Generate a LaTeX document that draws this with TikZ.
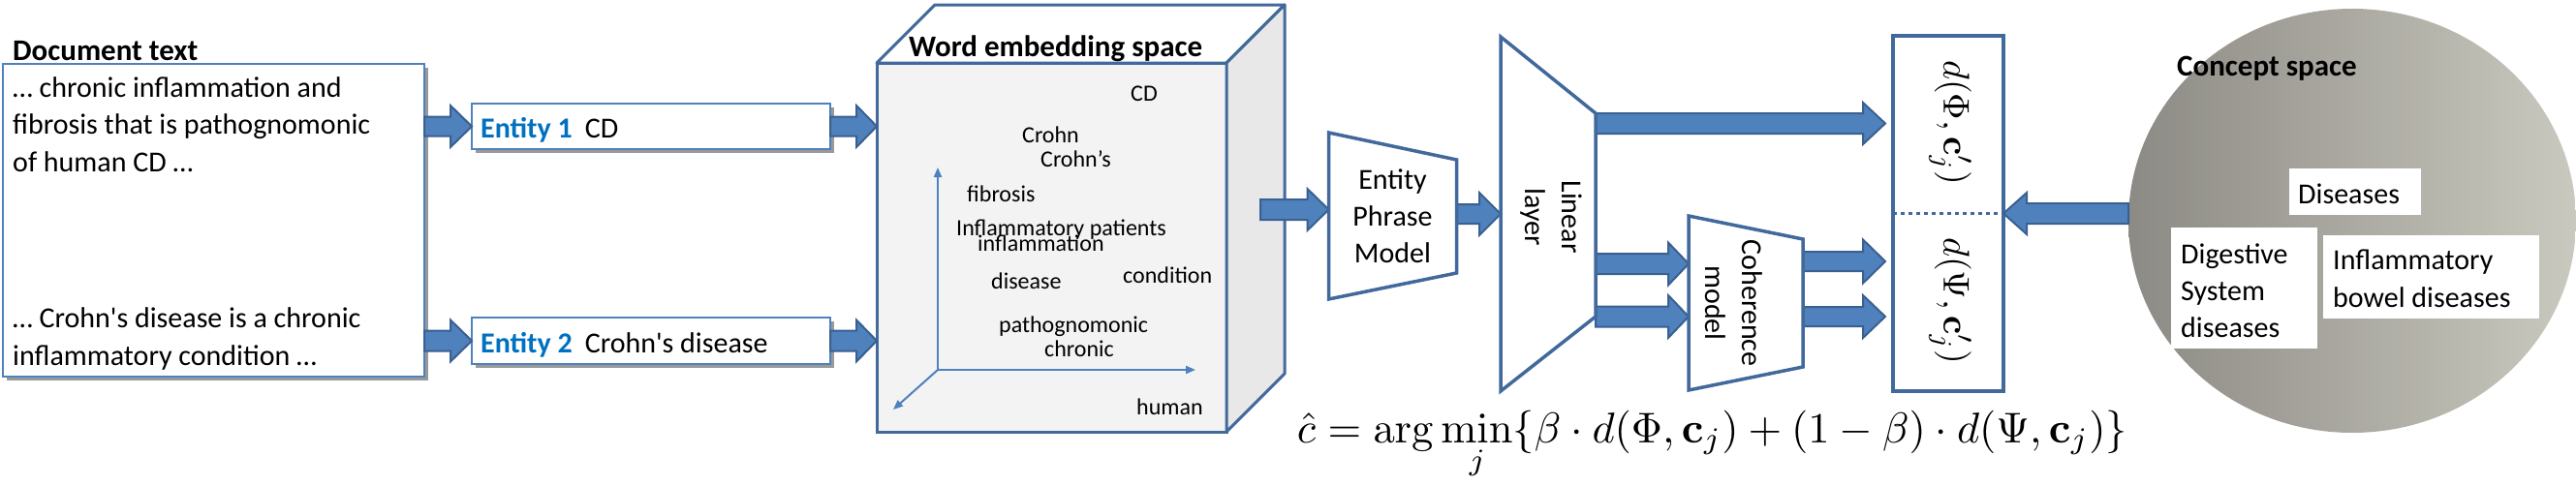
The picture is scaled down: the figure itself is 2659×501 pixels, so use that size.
\documentclass[tikz,border=0pt]{standalone}
\usepackage[no-math]{fontspec}
\setmainfont{Carlito}[Ligatures=TeXOff]
\usepackage{amsmath}
\usetikzlibrary{calc,arrows.meta,shapes.geometric,shadows}
\definecolor{arrowfill}{HTML}{4F81BD}
\definecolor{arrowline}{HTML}{3A6090}
\definecolor{shapeline}{HTML}{41699B}
\definecolor{entblue}{HTML}{0070C0}
\definecolor{boxline}{HTML}{4F81BD}
\definecolor{cubefront}{HTML}{F3F3F3}
\definecolor{cubeside}{HTML}{E8E8E8}
\definecolor{csleft}{HTML}{8C8A84}
\definecolor{csright}{HTML}{CAC9BF}
\newcommand\myfbody{\fontsize{30pt}{38pt}\selectfont}
\newcommand\myfword{\fontsize{24pt}{29pt}\selectfont}
\newcommand\myftitle{\fontsize{31pt}{38pt}\selectfont\bfseries}
\newcommand\barrow[5]{%
  \draw[blockarrow] let \p1=(#1), \p2=(#2) in
   (\x1,{\y2+#3pt}) -- ({\x2-(#5pt)},{\y2+#3pt}) -- ({\x2-(#5pt)},{\y2+#4pt}) -- (\x2,\y2)
   -- ({\x2-(#5pt)},{\y2-#4pt}) -- ({\x2-(#5pt)},{\y2-#3pt}) -- (\x1,{\y2-#3pt}) -- cycle;}
\begin{document}
\begin{tikzpicture}[x=1pt,y=-1pt,
  blockarrow/.style={fill=arrowfill, draw=arrowline, line width=2pt, line join=miter},
  tbox/.style={draw=boxline, line width=1.5pt, fill=white, inner sep=0pt, outer sep=0pt,
     drop shadow={shadow xshift=4pt, shadow yshift=-4pt, fill=black!40, opacity=1}},
  frame/.style={inner sep=0pt, outer sep=0pt},
  trap/.style={draw=shapeline, line width=3.5pt, line join=miter, fill=white},
  cubeline/.style={draw=shapeline, line width=3pt, line join=round},
  txt/.style={inner sep=0pt, font=\myfbody},
  line/.style={inner sep=0pt, anchor=base west, font=\myfbody},
  word/.style={inner sep=0pt, anchor=base west, font=\myfword},
  title/.style={inner sep=0pt, anchor=base west, font=\myftitle},
  axis/.style={draw=arrowfill, line width=2pt, -{Triangle[length=10pt,width=8pt]}},
  wbox/.style={fill=white, draw=none, inner sep=0pt, outer sep=0pt},
  mathnode/.style={inner sep=0pt, scale=3.8}]
\useasboundingbox (0,0) rectangle (2659,501);

% ---- Document text
\node[title] (doctitle) at (13,62) {Document text};
\node[tbox, minimum width=435pt, minimum height=323pt] (doc) at (220.5,227.5) {};
\node[line] (dl1) at (13,100) {… chronic inflammation and};
\node[line] (dl2) at (13,138) {fibrosis that is pathognomonic};
\node[line] (dl3) at (13,177) {of human CD …};
\node[line] (dl4) at (13,338) {… Crohn's disease is a chronic};
\node[line] (dl5) at (13,377) {inflammatory condition …};

% ---- Entities
\node[tbox, minimum width=370pt, minimum height=47pt] (e1) at (672,130.5) {};
\node[line] (e1t) at (496,142) {\textcolor{entblue}{\bfseries Entity 1}\hspace{13pt}CD};
\node[tbox, minimum width=370pt, minimum height=48pt] (e2) at (672,352) {};
\node[line] (e2t) at (496,364) {\textcolor{entblue}{\bfseries Entity 2}\hspace{13pt}Crohn's disease};

% ---- Cube
\node[frame, draw=shapeline, line width=3pt, fill=cubefront, minimum width=361pt, minimum height=381pt] (cube) at (1085.5,255.5) {};
\filldraw[cubeline, fill=white] (cube.north west) -- ++(60,-60) -- ++(361,0) -- (cube.north east) -- cycle;
\filldraw[cubeline, fill=cubeside] (cube.north east) -- ++(60,-60) -- ++(0,381) -- (cube.south east) -- cycle;
\node[title] (cubetitle) at (938,58) {Word embedding space};
\coordinate (ax0) at (968,382);
\coordinate (axy) at (968,173);
\coordinate (axx) at (1234,382);
\coordinate (axz) at (922,423);
\draw[axis] (ax0) -- (axy);
\draw[axis] (ax0) -- (axx);
\draw[axis] (ax0) -- (axz);
\node[word] (wcd) at (1167,104) {CD};
\node[word] (wcrohn) at (1055,147) {Crohn};
\node[word] (wcrohns) at (1074,172) {Crohn’s};
\node[word] (wfib) at (998,208) {fibrosis};
\node[word] (winfp) at (987,243) {Inflammatory patients};
\node[word] (winf) at (1009,259) {inflammation};
\node[word] (wdis) at (1023,298) {disease};
\node[word] (wcond) at (1159,292) {condition};
\node[word] (wpath) at (1031,343) {pathognomonic};
\node[word] (wchr) at (1078,368) {chronic};
\node[word] (whum) at (1173,428) {human};

% ---- Frames of the models (shape outlines drawn later)
\node[frame, minimum width=132pt, minimum height=172pt] (epm) at (1437.5,223) {};
\node[frame, minimum width=98pt, minimum height=366pt] (ll) at (1598,221) {};
\node[frame, minimum width=118pt, minimum height=180pt] (ch) at (1802,313) {};
\node[frame, minimum width=114pt, minimum height=367pt] (dbox) at (2011,220.5) {};

% ---- Concept space
\node[ellipse, minimum width=462pt, minimum height=438pt, inner sep=0pt, outer sep=0pt,
      left color=csleft, right color=csright, draw=none] (cs) at (2428,228) {};
\node[title] (cstitle) at (2247,78) {Concept space};
\node[wbox, minimum width=136pt, minimum height=48pt] (bdis) at (2431,198) {};
\node[line] (bdist) at (2372,210) {Diseases};
\node[wbox, minimum width=151pt, minimum height=125pt] (bdig) at (2316.5,297.5) {};
\node[line] (bdig1) at (2251,272) {Digestive};
\node[line] (bdig2) at (2251,310) {System};
\node[line] (bdig3) at (2251,348) {diseases};
\node[wbox, minimum width=223pt, minimum height=86pt] (binf) at (2509.5,286) {};
\node[line] (binf1) at (2408,278) {Inflammatory};
\node[line] (binf2) at (2408,317) {bowel diseases};

% ---- Coordinates for arrow ends
\coordinate (cubeout) at (1301,216.5);
\coordinate (d1in) at (1946,127.5);
\coordinate (chin1) at (1743,272.5);
\coordinate (chin2) at (1743,327);
\coordinate (d2in) at (1946,270);
\coordinate (d3in) at (1946,327);

% ---- Block arrows
\barrow{doc.east |- e1.west}{e1.west}{10}{21.5}{22}
\barrow{doc.east |- e2.west}{e2.west}{10.5}{21.5}{22}
\barrow{e1.east}{cube.west |- e1.east}{10}{21.5}{21}
\barrow{e2.east}{cube.west |- e2.east}{10.5}{21.5}{21}
\barrow{cubeout}{epm.west |- cubeout}{10.5}{21.5}{22}
\barrow{epm.east |- ll.west}{ll.west}{10}{22}{22}
\barrow{ll.east |- d1in}{d1in}{10.5}{21.5}{23}
\barrow{ll.east |- chin1}{chin1}{10.5}{22}{21}
\barrow{ll.east |- chin2}{chin2}{10.5}{22}{21}
\barrow{ch.east |- d2in}{d2in}{10}{22.5}{23}
\barrow{ch.east |- d3in}{d3in}{10}{22}{23}

% ---- Model shapes
\draw[trap] (epm.north west) -- ($(epm.north east)+(0,28)$) -- ($(epm.south east)+(0,-27)$) -- (epm.south west) -- cycle;
\node[txt, align=center] (epmt) at (epm.center) {Entity\\Phrase\\Model};
\draw[trap] (ll.north west) -- ($(ll.north east)+(0,79)$) -- ($(ll.south east)+(0,-77)$) -- (ll.south west) -- cycle;
\node[txt, align=center, rotate=-90] (llt) at (1601,224) {Linear\\layer};
\draw[trap] (ch.north west) -- ($(ch.north east)+(0,24)$) -- ($(ch.south east)+(0,-24)$) -- (ch.south west) -- cycle;
\node[txt, align=center, rotate=-90] (cht) at (1790,313) {Coherence\\model};

% ---- Distance box
\draw[draw=shapeline, line width=3.5pt, fill=white] (dbox.north west) rectangle (dbox.south east);
\draw[draw=shapeline, line width=3pt, dash pattern=on 4pt off 4pt] (dbox.west) -- (dbox.east);
\node[mathnode, rotate=-90] (dphi) at (2013,127) {$d(\Phi,\mathbf{c}_j')$};
\node[mathnode, rotate=-90] (dpsi) at (2013,311) {$d(\Psi,\mathbf{c}_j')$};
\barrow{cs.west |- dbox.east}{dbox.east}{10.5}{21.5}{-24}

% ---- Formula
\node[inner sep=0pt, scale=4.45, anchor=base west] (argmin) at (1338,457)
  {$\hat{c} = \arg\min\limits_j\{\beta\cdot d(\Phi,\mathbf{c}_j)+(1-\beta)\cdot d(\Psi,\mathbf{c}_j)\}$};
\end{tikzpicture}
\end{document}
